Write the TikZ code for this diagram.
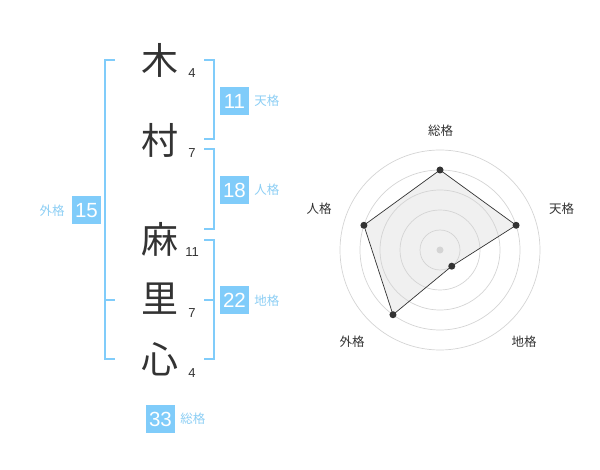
\documentclass[tikz,border=0pt]{standalone}
\usepackage{fontspec}
\setmainfont{Liberation Sans}
\newfontfamily\jp{Noto Sans CJK JP}
\usetikzlibrary{positioning}
\definecolor{skyblue}{RGB}{128,204,250}
\definecolor{skytext}{RGB}{140,206,244}
\definecolor{ink}{RGB}{51,51,51}
\definecolor{ringgray}{RGB}{212,212,212}
\definecolor{areagray}{RGB}{240,240,240}

\begin{document}
\begin{tikzpicture}[x=1pt,y=-1pt,
		kanji/.style={text=ink,font=\jp\fontsize{37}{37}\selectfont,inner sep=0pt},
		strokes/.style={text=ink,font=\fontsize{13}{13}\selectfont,inner sep=0pt},
		kaku/.style={fill=skyblue,text=white,font=\fontsize{20.5}{20.5}\selectfont,minimum width=29pt,minimum height=28pt,inner sep=0pt},
		kakulabel/.style={text=skytext,font=\jp\fontsize{12.5}{12.5}\selectfont,inner sep=0pt},
		bracket/.style={draw=skyblue,line width=2pt},
		ring/.style={draw=ringgray,line width=0.7pt},
		dot/.style={circle,fill=ink,inner sep=0pt,minimum size=7pt},
		axislabel/.style={text=ink,font=\jp\fontsize{12.5}{12.5}\selectfont,inner sep=0pt}]
		\useasboundingbox (0,0) rectangle (600,470);

		\node[kanji]	(k1)	at (160,60)		{木};
		\node[kanji]	(k2)	at (160,140)	{村};
		\node[kanji]	(k3)	at (160,239)	{麻};
		\node[kanji]	(k4)	at (160,299)	{里};
		\node[kanji]	(k5)	at (160,359)	{心};

		\node[strokes]	(s1)	at (192,73)		{4};
		\node[strokes]	(s2)	at (192,153)	{7};
		\node[strokes]	(s3)	at (192,252)	{11};
		\node[strokes]	(s4)	at (192,313)	{7};
		\node[strokes]	(s5)	at (192,373)	{4};

		\draw[bracket] (115,60) -- (105,60) -- (105,359) -- (115,359);
		\draw[bracket] (105,300) -- (115,300);
		\draw[bracket] (204,60) -- (214,60) -- (214,139) -- (204,139);
		\draw[bracket] (204,149) -- (214,149) -- (214,229) -- (204,229);
		\draw[bracket] (204,240) -- (214,240) -- (214,359) -- (204,359);
		\draw[bracket] (204,300) -- (214,300);

		\node[kaku]		(ten)	at (234.5,101)	{11};
		\node[kakulabel,right=5pt of ten]	(tenl)	{天格};
		\node[kaku]		(jin)	at (234.5,190)	{18};
		\node[kakulabel,right=5pt of jin]	(jinl)	{人格};
		\node[kaku]		(chi)	at (234.5,300.5)	{22};
		\node[kakulabel,right=5pt of chi]	(chil)	{地格};
		\node[kaku]		(gai)	at (86.5,210.5)	{15};
		\node[kakulabel,left=7pt of gai]	(gail)	{外格};
		\node[kaku]		(sou)	at (160.5,419)	{33};
		\node[kakulabel,right=5pt of sou]	(soul)	{総格};

		\begin{scope}[shift={(440,250)},y=1pt]
			\coordinate (r1) at (90:80);
			\coordinate (r2) at (18:80);
			\coordinate (r3) at (-54:20);
			\coordinate (r4) at (-126:80);
			\coordinate (r5) at (162:80);
			\fill[areagray] (r1) -- (r2) -- (r3) -- (r4) -- (r5) -- cycle;
			\foreach \r in {20,40,...,100}
				\draw[ring] (0,0) circle[radius=\r pt];
			\fill[ringgray] (0,0) circle[radius=3.5pt];
			\draw[ink,line width=0.7pt] (r1) -- (r2) -- (r3) -- (r4) -- (r5) -- cycle;
			\foreach \i in {1,...,5}
				\node[dot] at (r\i) {};

			\node[axislabel]	(a1)	at (0.5,119.5)	{総格};
			\node[axislabel]	(a2)	at (121.5,41.5)	{天格};
			\node[axislabel]	(a3)	at (84,-91.5)	{地格};
			\node[axislabel]	(a4)	at (-88,-91.5)	{外格};
			\node[axislabel]	(a5)	at (-121,41)	{人格};
		\end{scope}
	\end{tikzpicture}
\end{document}
